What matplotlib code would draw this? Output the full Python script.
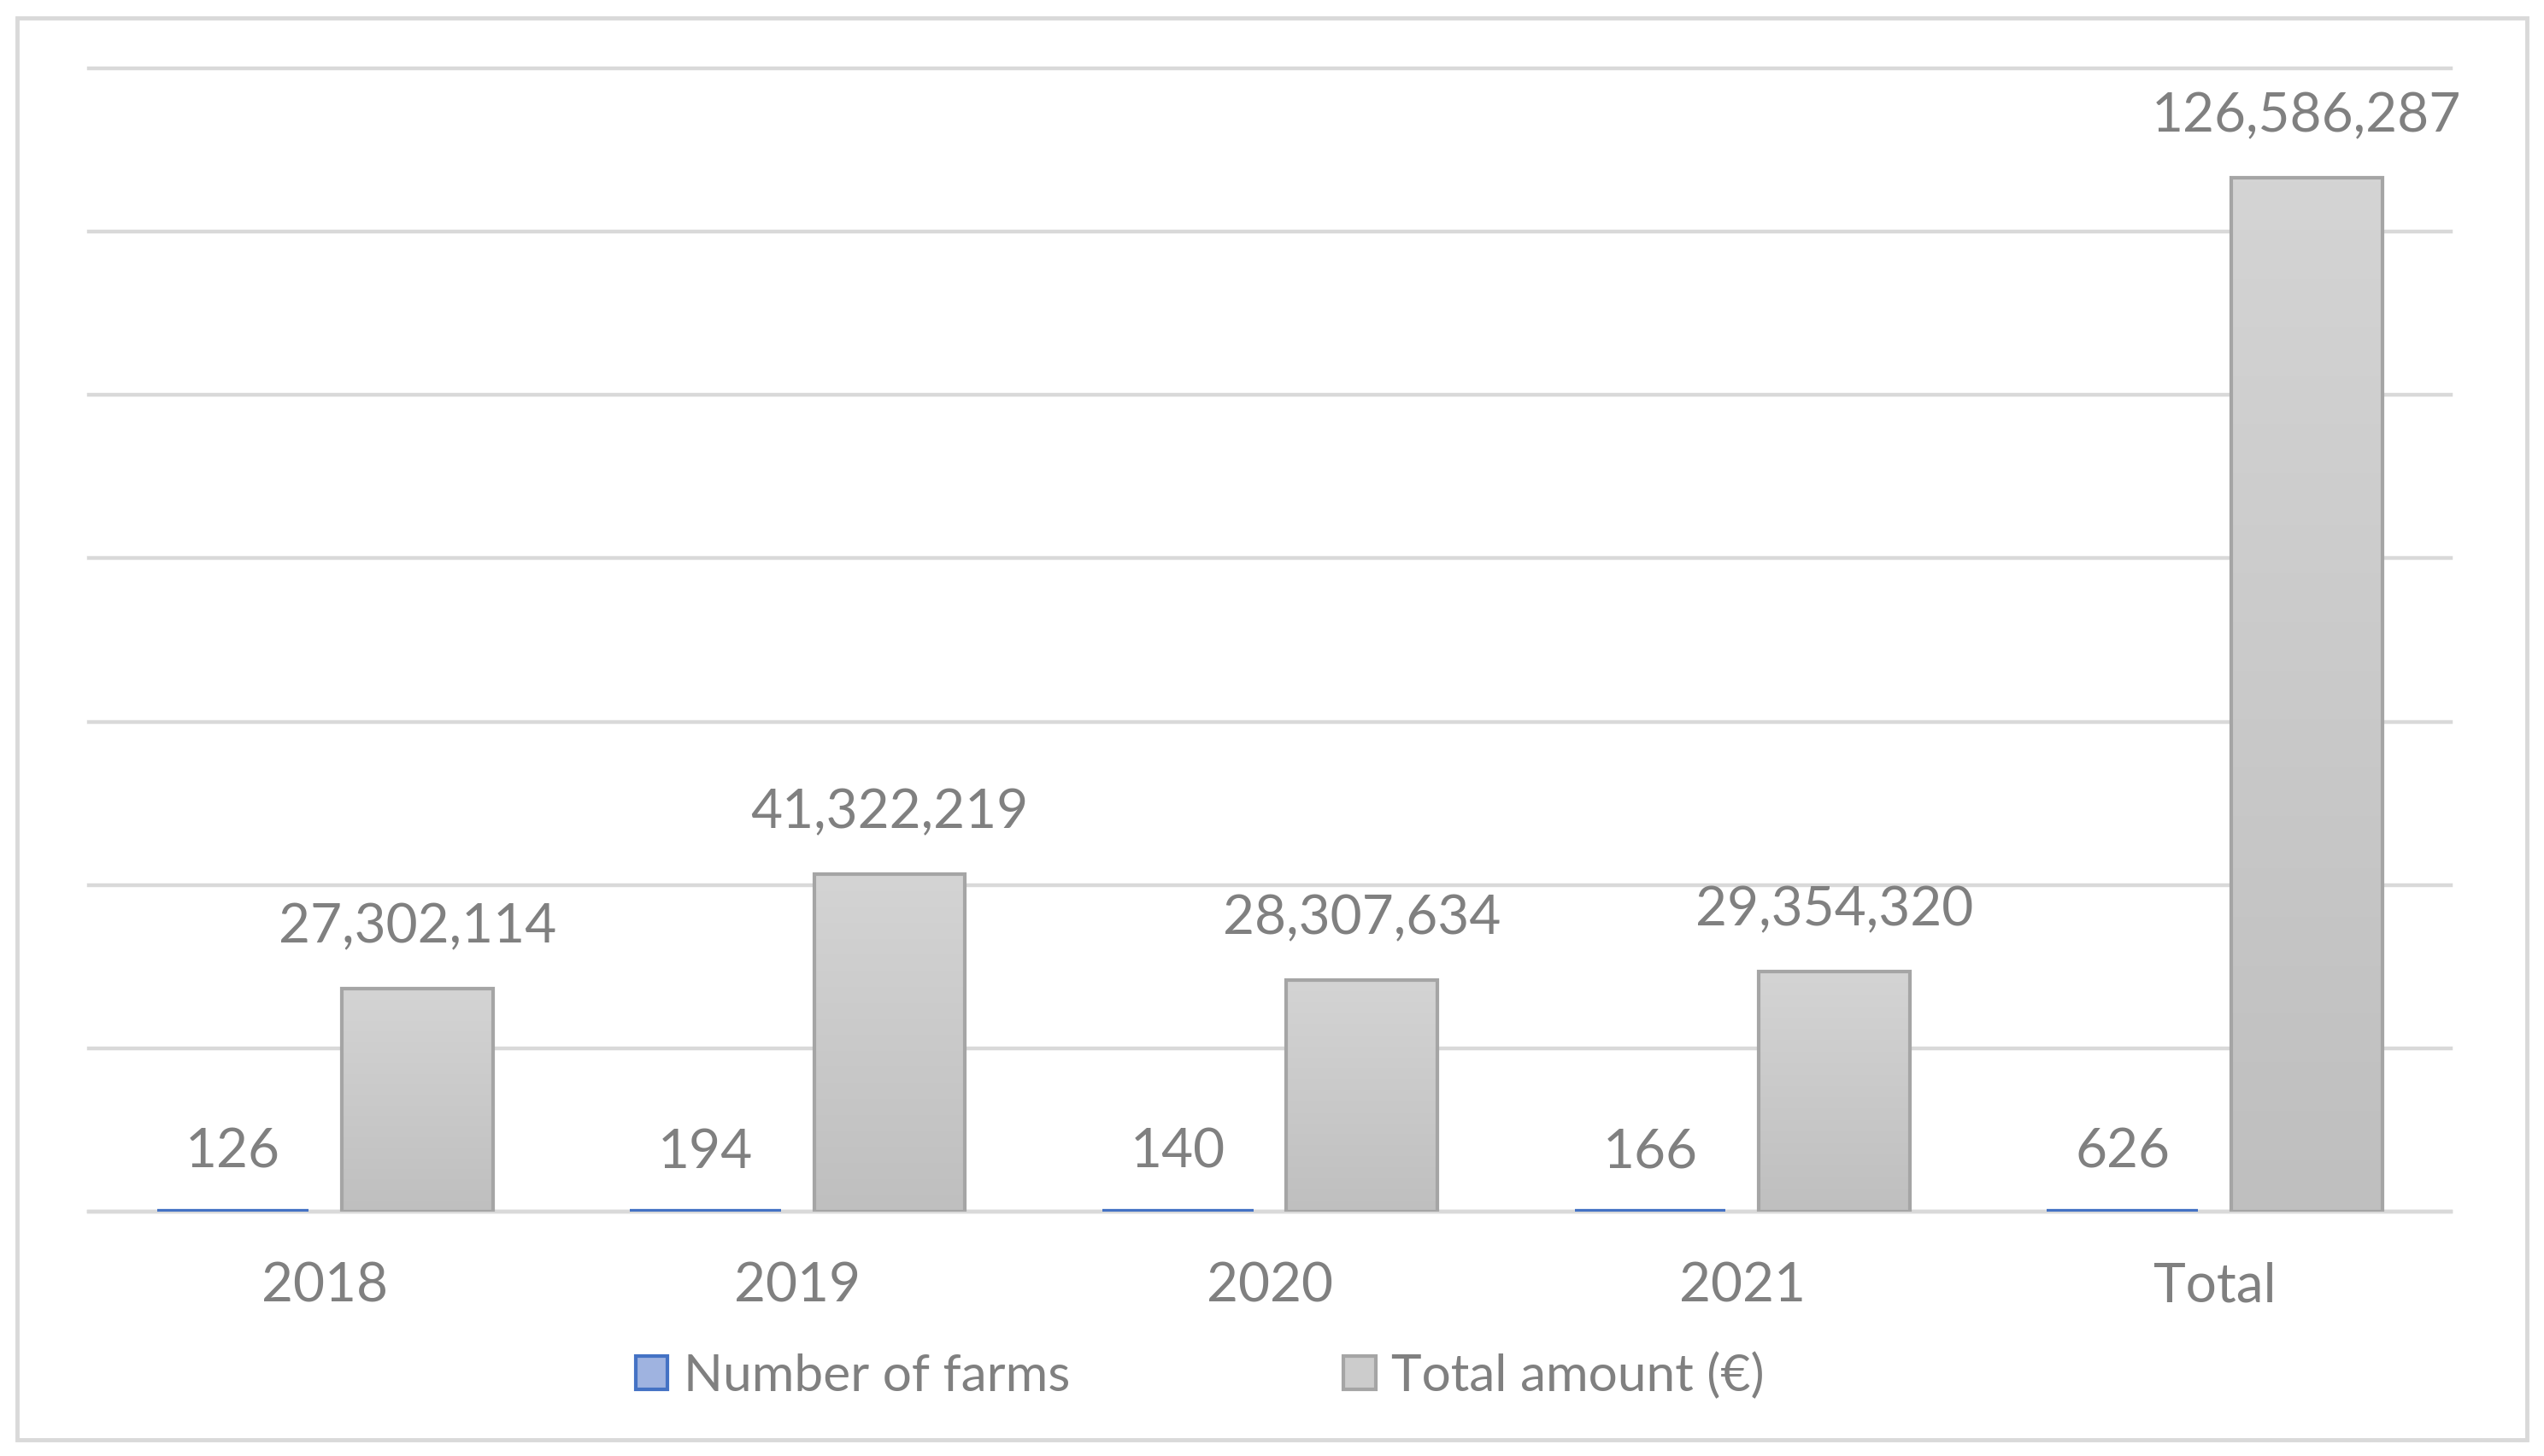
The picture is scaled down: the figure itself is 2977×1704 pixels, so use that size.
import matplotlib
matplotlib.use("Agg")
import matplotlib.pyplot as plt
import numpy as np
from matplotlib.patches import Rectangle, Patch
from matplotlib.colors import LinearSegmentedColormap

categories = ["2018", "2019", "2020", "2021", "Total"]
farms = [126, 194, 140, 166, 626]
amounts = [27302114, 41322219, 28307634, 29354320, 126586287]
series_names = ["Number of farms", "Total amount (€)"]

W, H, DPI = 2977, 1704, 100
plt.rcParams['font.family'] = ['Lato', 'DejaVu Sans']
TXT = "#808080"
GRID = "#d9d9d9"
BLUE = "#4472c4"
GEDGE = "#a5a5a5"

fig = plt.figure(figsize=(W / DPI, H / DPI), dpi=DPI)
fig.patches.append(Rectangle((20 / W, 1 - 1685 / H), (2957 - 20) / W, (1685 - 21) / H,
                             transform=fig.transFigure, fill=False, edgecolor=GRID,
                             linewidth=3.5, zorder=0))

ax = fig.add_axes([104 / W, 1 - 1418 / H, (2868 - 104) / W, (1418 - 80) / H])
ax.set_facecolor("none")

x = np.arange(len(categories))
bw = 0.32
off = 0.195

cmap = LinearSegmentedColormap.from_list("g", ["#bfbfbf", "#d4d4d4"])

bars_f = ax.bar(x - off, farms, width=bw, color="#9fb3e0", edgecolor=BLUE, linewidth=4.5, zorder=5)
bars_a = ax.bar(x + off, amounts, width=bw, color="none", edgecolor=GEDGE, linewidth=3, zorder=4)

grad = np.linspace(0, 1, 256).reshape(-1, 1)
for b in bars_a:
    x0, y0 = b.get_x(), b.get_y()
    w, h = b.get_width(), b.get_height()
    im = ax.imshow(grad, extent=[x0, x0 + w, y0, y0 + h], origin="lower",
                   aspect="auto", cmap=cmap, zorder=3)
    im.set_clip_path(b)

for i in range(len(categories)):
    ax.annotate(f"{farms[i]:,}", xy=(x[i] - off, farms[i]), xytext=(0, 50),
                textcoords="offset points", ha="center", va="center",
                fontsize=46, color=TXT)
    ax.annotate(f"{amounts[i]:,}", xy=(x[i] + off, amounts[i]), xytext=(0, 52),
                textcoords="offset points", ha="center", va="center",
                fontsize=46, color=TXT)

ax.set_xlim(-0.5, len(categories) - 0.5)
ax.set_ylim(0, 140_000_000)
ax.set_yticks(np.arange(0, 140_000_001, 20_000_000))
ax.yaxis.grid(True, color=GRID, linewidth=3.2, zorder=0)
ax.set_axisbelow(True)
for g in ax.get_ygridlines():
    g.set_clip_on(False)
ax.tick_params(axis="y", left=False, labelleft=False)
ax.set_xticks(x)
ax.set_xticklabels(categories, fontsize=46, color=TXT)
ax.tick_params(axis="x", length=0, pad=42)
for s in ["left", "right", "top"]:
    ax.spines[s].set_visible(False)
ax.spines["bottom"].set_color(GRID)
ax.spines["bottom"].set_linewidth(3.2)
ax.spines["bottom"].set_zorder(2)

handles = [Patch(facecolor="#9fb3e0", edgecolor=BLUE, linewidth=3),
           Patch(facecolor="#cccccc", edgecolor=GEDGE, linewidth=3)]
fig.legend(handles, series_names, loc="center left", bbox_to_anchor=(744 / W, 1 - 1610 / H),
           ncol=2, frameon=False, fontsize=43.5, labelcolor=TXT, handlelength=0.62,
           handleheight=0.62, handletextpad=0.3, columnspacing=5.3, borderpad=0,
           borderaxespad=0)

fig.savefig("out.png", dpi=DPI)
